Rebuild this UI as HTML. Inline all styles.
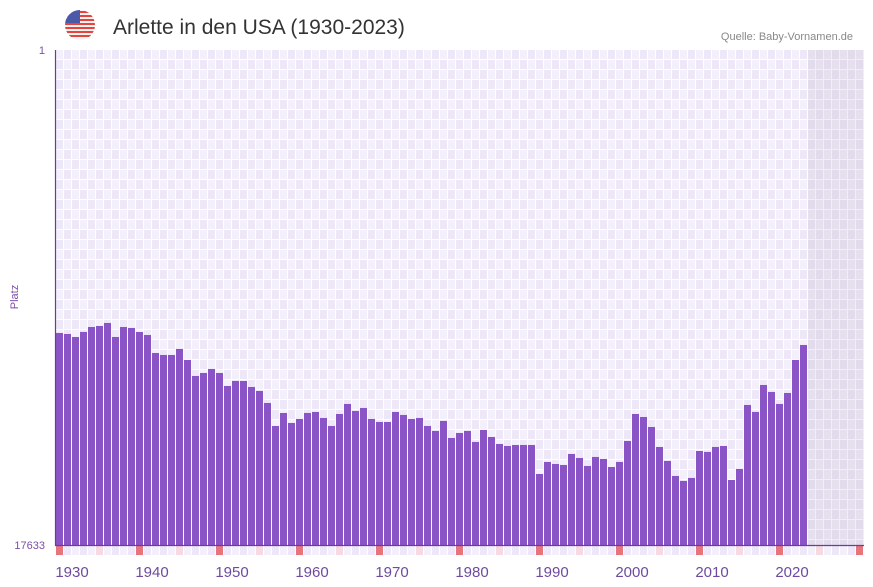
<!DOCTYPE html>
<html><head><meta charset="utf-8"><style>
body{margin:0;background:#fff;font-family:"Liberation Sans",sans-serif;}
svg{display:block}
</style></head><body>
<svg id="c" width="873" height="587" viewBox="0 0 873 587" xmlns="http://www.w3.org/2000/svg">
<defs>
<pattern id="grid" x="56" y="50" width="16" height="20" patternUnits="userSpaceOnUse">
<rect width="16" height="20" fill="#fff"/>
<rect x="0" y="0" width="7" height="9" fill="#f3effb"/>
<rect x="8" y="0" width="7" height="9" fill="#ede7f8"/>
<rect x="0" y="10" width="7" height="9" fill="#ede7f8"/>
<rect x="8" y="10" width="7" height="9" fill="#f3effb"/>
</pattern>
<pattern id="grid2" x="56" y="50" width="16" height="20" patternUnits="userSpaceOnUse">
<rect width="16" height="20" fill="#f1eff3"/>
<rect x="0" y="0" width="7" height="9" fill="#e6e0ee"/>
<rect x="8" y="0" width="7" height="9" fill="#e1dbeb"/>
<rect x="0" y="10" width="7" height="9" fill="#e1dbeb"/>
<rect x="8" y="10" width="7" height="9" fill="#e6e0ee"/>
</pattern>
<clipPath id="fc"><circle cx="80" cy="25" r="15"/></clipPath>
</defs>
<g clip-path="url(#fc)">
<rect x="65" y="10" width="30" height="30" fill="#f4f4f4"/>
<rect x="65" y="11" width="30" height="2" fill="#e8433c"/>
<rect x="65" y="15" width="30" height="2" fill="#e8433c"/>
<rect x="65" y="19" width="30" height="2" fill="#e8433c"/>
<rect x="65" y="23" width="30" height="2" fill="#e8433c"/>
<rect x="65" y="27" width="30" height="2" fill="#e8433c"/>
<rect x="65" y="31" width="30" height="2" fill="#e8433c"/>
<rect x="65" y="35" width="30" height="2" fill="#e8433c"/>
<rect x="65" y="10" width="15" height="13" fill="#4a5aa8"/>
</g>
<text x="113" y="34" font-size="21" fill="#333" font-family="Liberation Sans, sans-serif">Arlette in den USA (1930-2023)</text>
<text x="853" y="40" font-size="11" fill="#888" text-anchor="end">Quelle: Baby-Vornamen.de</text>
<rect x="56" y="50" width="752" height="495" fill="url(#grid)"/>
<rect x="808" y="50" width="56" height="495" fill="url(#grid2)"/>
<g id="bars"></g>
<g id="strip"></g>
<line x1="55.5" y1="50" x2="55.5" y2="546" stroke="#6a3d9a" stroke-width="1.2"/>
<line x1="55" y1="545.5" x2="864" y2="545.5" stroke="#6a3d9a" stroke-width="1.2"/>
<text x="45" y="54" font-size="11" fill="#7b4fa8" text-anchor="end">1</text>
<text x="45" y="549" font-size="11" fill="#7b4fa8" text-anchor="end">17633</text>
<text transform="translate(18,297) rotate(-90)" font-size="11" fill="#7b4fa8" text-anchor="middle">Platz</text>
<g id="xt"></g>
</svg>
<script>
const years=[];for(let y=1930;y<=2023;y++)years.push(y);
const ranks=[10080,10116,10223,10045,9867,9831,9724,10223,9867,9902,
10045,10152,10793,10864,10864,10650,11042,11612,11505,11363,
11505,11968,11790,11790,12004,12146,12574,13393,12930,13286,
13144,12930,12894,13108,13393,12966,12609,12859,12752,13144,
13251,13251,12894,13001,13144,13108,13393,13571,13215,13821,
13642,13571,13963,13536,13785,14034,14106,14070,14070,14070,
15103,14675,14747,14782,14390,14533,14818,14497,14569,14854,
14675,13927,12966,13073,13429,14141,14640,15174,15352,15245,
14284,14319,14141,14106,15317,14925,12645,12894,11933,12182,
12609,12218,11042,10508];
const xTicks=[1930,1940,1950,1960,1970,1980,1990,2000,2010,2020];
const yMin=1,yMax=17633,startYear=1930,endYear=2030;
const NS='http://www.w3.org/2000/svg';
function xs(yr){return 56+(yr-startYear)*8;}
function ys(v){return 50+(v-yMin)/(yMax-yMin)*495;}
const bars=document.getElementById('bars');
years.forEach((yr,i)=>{
 const r=document.createElementNS(NS,'rect');
 const top=ys(ranks[i]);
 r.setAttribute('x',xs(yr));r.setAttribute('width',7);
 r.setAttribute('y',top);r.setAttribute('height',545-top);
 r.setAttribute('fill','#8b54c6');
 
 
 bars.appendChild(r);
});
const strip=document.getElementById('strip');
for(let yr=startYear;yr<=endYear;yr++){
 const r=document.createElementNS(NS,'rect');
 let c=(yr%2)?'#ede7f8':'#f3effb';
 if(yr%10===0)c='#e8747c';else if(yr%10===5)c='#f7d9e1';
 r.setAttribute('x',xs(yr));r.setAttribute('width',7);
 r.setAttribute('y',546);r.setAttribute('height',9);r.setAttribute('fill',c);
 
 
 strip.appendChild(r);
}
const xt=document.getElementById('xt');
xTicks.forEach(yr=>{
 const t=document.createElementNS(NS,'text');
 t.setAttribute('x',xs(yr)+16);t.setAttribute('y',577);
 t.setAttribute('font-size','15');t.setAttribute('fill','#6e4a9e');
 t.setAttribute('text-anchor','middle');
 t.textContent=yr;
 
 
 xt.appendChild(t);
});
</script>
</body></html>
